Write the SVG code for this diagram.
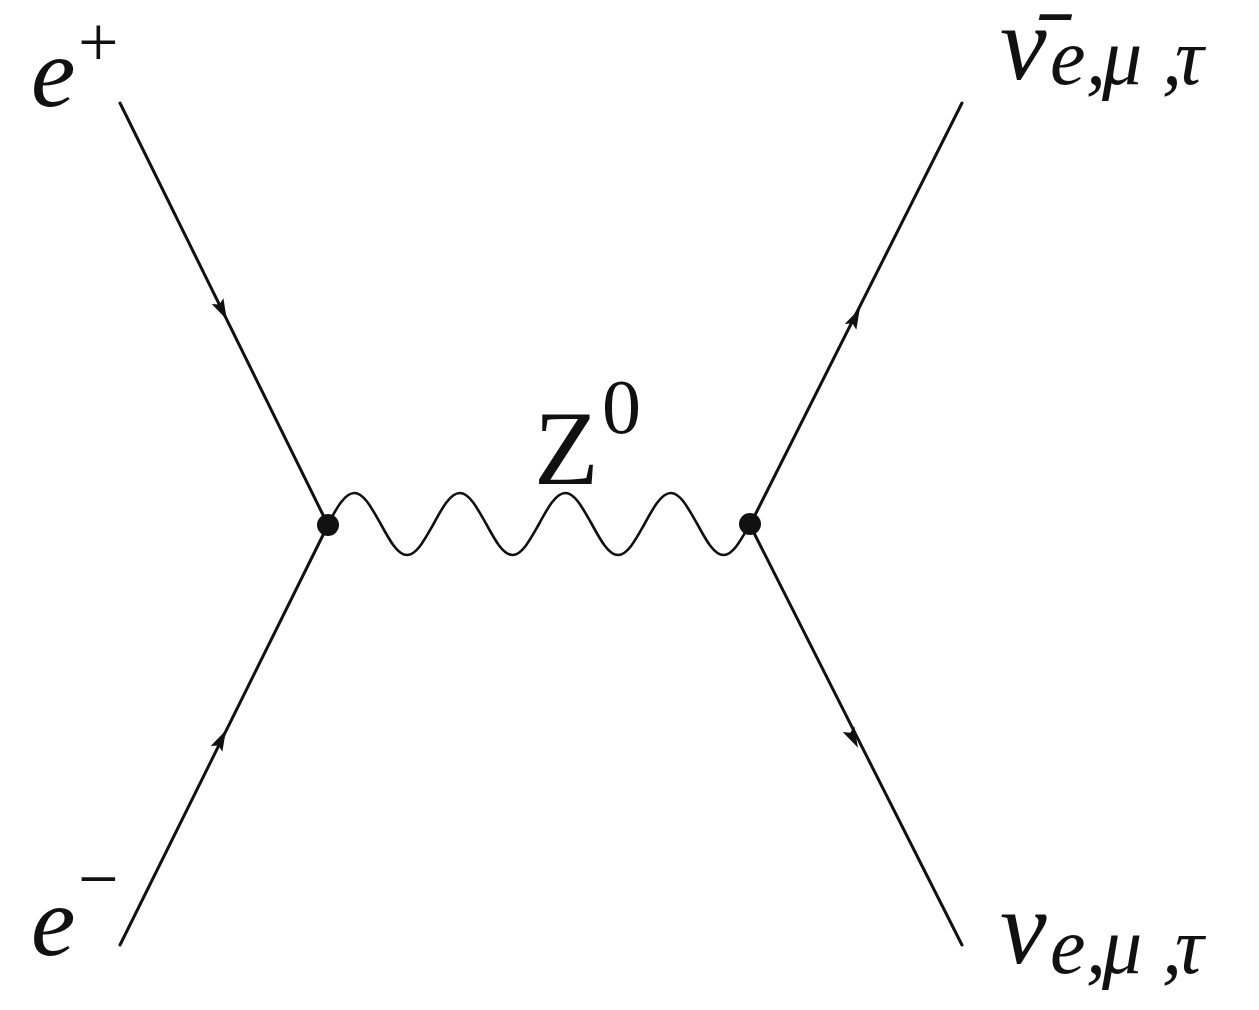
<svg xmlns="http://www.w3.org/2000/svg" width="1259" height="1010" viewBox="0 0 1259 1010">
<style>
.ln{stroke:#111;stroke-width:3;fill:none;stroke-linecap:round}
.wv{stroke:#111;stroke-width:2.6;fill:none}
.lab{font-family:'Liberation Serif','Times New Roman','DejaVu Serif',serif;fill:#111}
.it{font-style:italic}
.dot{fill:#111}
.ah{fill:#111}
</style>
<defs>
<path id="arr" d="M11,0 L-10,-6.5 L-6,0 L-10,6.5 Z"/>
</defs>
<rect width="1259" height="1010" fill="#fff"/>
<g id="connectors">
<line class="ln" x1="120" y1="103" x2="328" y2="525"/>
<line class="ln" x1="120" y1="945" x2="328" y2="525"/>
<line class="ln" x1="962" y1="103" x2="750" y2="525"/>
<line class="ln" x1="962" y1="945" x2="750" y2="525"/>
<use href="#arr" class="ah" transform="translate(222,310) rotate(63.76)"/>
<use href="#arr" class="ah" transform="translate(221,740) rotate(-63.66)"/>
<use href="#arr" class="ah" transform="translate(855,318) rotate(-63.33)"/>
<use href="#arr" class="ah" transform="translate(853,738) rotate(63.2)"/>
<path id="z-boson" class="wv" d="M328,524
c8.6,-15.9 16.82,-31 26.375,-31 c9.555,0 17.775,15.9 26.375,31 c8.6,15.9 16.82,31 26.375,31 c9.555,0 17.775,-15.9 26.375,-31
c8.6,-15.9 16.82,-31 26.375,-31 c9.555,0 17.775,15.9 26.375,31 c8.6,15.9 16.82,31 26.375,31 c9.555,0 17.775,-15.9 26.375,-31
c8.6,-15.9 16.82,-31 26.375,-31 c9.555,0 17.775,15.9 26.375,31 c8.6,15.9 16.82,31 26.375,31 c9.555,0 17.775,-15.9 26.375,-31
c8.6,-15.9 16.82,-31 26.375,-31 c9.555,0 17.775,15.9 26.375,31 c8.6,15.9 16.82,31 26.375,31 c9.555,0 17.775,-15.9 26.375,-31"/>
</g>
<g id="vertex-left"><circle class="dot" cx="328" cy="525" r="11"/></g>
<g id="vertex-right"><circle class="dot" cx="750" cy="524" r="11"/></g>
<g id="label-eplus" class="lab">
<text class="it" x="31" y="106" font-size="100">e</text>
<text x="78" y="66" font-size="72">+</text>
</g>
<g id="label-eminus" class="lab">
<text class="it" x="31" y="955" font-size="100">e</text>
<text x="78" y="903" font-size="72">−</text>
</g>
<g id="label-z0" class="lab">
<text x="534" y="484" font-size="106">Z</text>
<text x="602" y="433" font-size="78">0</text>
</g>
<g id="label-antinu" class="lab">
<text class="it" x="1000" y="79" font-size="105">ν̄</text>
<text class="it" x="1050 1086 1102 1162 1175" y="84" font-size="80">e,μ,τ</text>
</g>
<g id="label-nu" class="lab">
<text class="it" x="1000" y="963" font-size="105">ν</text>
<text class="it" x="1050 1086 1102 1162 1175" y="973" font-size="80">e,μ,τ</text>
</g>
</svg>
